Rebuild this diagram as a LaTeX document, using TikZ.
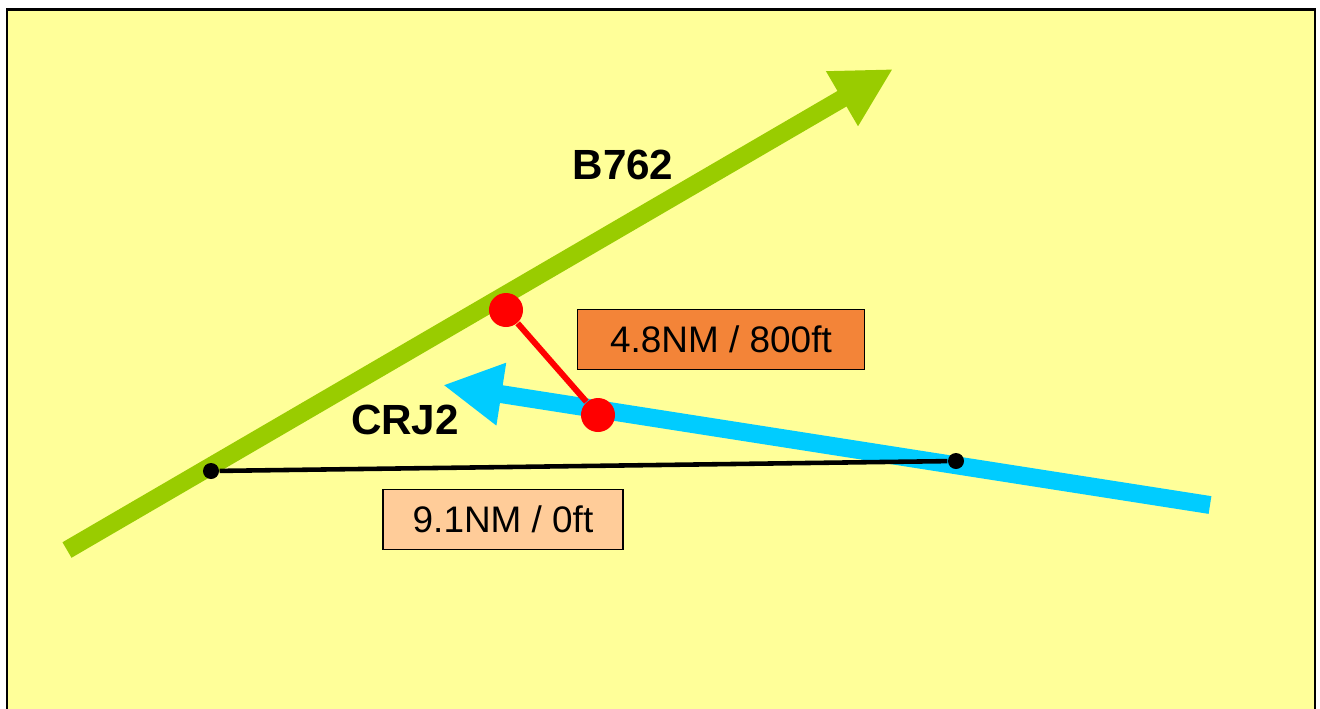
\documentclass[tikz,border=0pt]{standalone}
\usepackage{fontspec}
\setmainfont{Liberation Sans}
\usetikzlibrary{arrows.meta}

\definecolor{paper}{RGB}{255,255,153}
\definecolor{trackgreen}{RGB}{153,204,0}
\definecolor{trackblue}{RGB}{0,204,255}
\definecolor{sepred}{RGB}{255,0,0}
\definecolor{labelorange}{RGB}{243,132,56}
\definecolor{labelpeach}{RGB}{255,204,153}

\begin{document}
\begin{tikzpicture}[x=0.01cm, y=-0.01cm,
	track/.style={line width=5.1pt, -{Triangle[length=0.59cm 0, width=0.59cm 0]}},
	callsign/.style={font=\fontsize{12}{14}\selectfont\bfseries, text=black},
	sepbox/.style={draw=black, line width=0.45pt, minimum height=0.6cm, inner sep=0pt,
		font=\fontsize{10.5}{12}\selectfont, text centered},
	reddot/.style={circle, fill=sepred, minimum size=0.34cm, inner sep=0pt},
	blackdot/.style={circle, fill=black, minimum size=0.16cm, inner sep=0pt}]
	
	\useasboundingbox (0,0) rectangle (1320,708);
	
	%Background
	\draw[fill=paper, line width=0.85pt] (7,9) rectangle (1315,760);
	
	%Tracks
	\coordinate (greenStart) at (67,550);
	\coordinate (greenEnd) at (893,69);
	\coordinate (blueStart) at (1210,505);
	\coordinate (blueEnd) at (443,385);
	
	\draw[track, trackgreen] (greenStart) -- (greenEnd);
	\draw[track, trackblue] (blueStart) -- (blueEnd);
	
	%Nodes
	\node (greenName) at (623,165) [callsign]{B762};
	\node (blueName) at (405,420) [callsign]{CRJ2};
	
	\node (hsepA) at (211,471) [blackdot]{};
	\node (hsepB) at (956,461) [blackdot]{};
	
	\node (greenPos) at (506,310) [reddot]{};
	\node (bluePos) at (598,415) [reddot]{};
	
	\node (minSep) at (721,339.5) [sepbox, fill=labelorange, minimum width=2.87cm]{4.8NM / 800ft};
	\node (startSep) at (503,519.5) [sepbox, fill=labelpeach, minimum width=2.40cm]{9.1NM / 0ft};
	
	%Links
	\draw[line width=1.3pt] (hsepA) -- (hsepB);
	\draw[sepred, line width=1.7pt] (greenPos) -- (bluePos);
	
\end{tikzpicture}
\end{document}
